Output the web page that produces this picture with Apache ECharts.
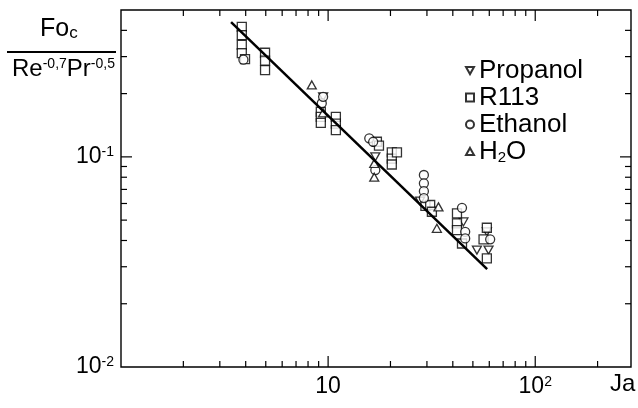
<!DOCTYPE html>
<html>
<head>
<meta charset="utf-8">
<script src="https://cdn.jsdelivr.net/npm/echarts@6/dist/echarts.min.js"></script>
<style>html,body{margin:0;padding:0;background:#fff;}#c{width:638px;height:408px;}</style>
</head>
<body>
<div id="c"></div>
<script>
// ---- data ----
const propanol = [[9.46,0.193],[16.9,0.100],[27.8,0.0616],[45.0,0.049],[58.4,0.044],[52.3,0.036],[59.5,0.036]];
const r113 = [[3.83,0.416],[3.83,0.380],[3.83,0.341],[3.83,0.312],[3.97,0.292],[4.96,0.313],[4.96,0.287],[4.96,0.259],
  [9.22,0.164],[9.22,0.155],[9.22,0.145],[10.9,0.155],[10.9,0.144],[10.9,0.134],[17.2,0.118],[17.6,0.113],
  [20.3,0.105],[20.3,0.098],[20.3,0.092],[21.5,0.105],[29.5,0.0585],[31.1,0.059],[31.7,0.0548],
  [41.9,0.0538],[41.9,0.0482],[41.9,0.0448],[44.3,0.0387],[58.4,0.046],[56.3,0.0405],[58.4,0.0329]];
const ethanol = [[3.90,0.290],[9.32,0.180],[9.46,0.193],[15.8,0.1225],[16.5,0.118],[16.9,0.0865],
  [29.0,0.082],[29.0,0.0748],[29.0,0.0687],[29.0,0.0637],[44.3,0.0572],[45.9,0.044],[45.9,0.0409],[60.6,0.0405]];
const h2o = [[8.34,0.220],[9.46,0.162],[16.7,0.093],[16.7,0.080],[34.1,0.0578],[33.5,0.0457]];
const fitLine = [[3.40,0.438],[58.6,0.0292]];
const seriesNames = ['Propanol','R113','Ethanol','H2O'];
const xMajorTicks = [10,100];
const xMinorTicks = [2,3,4,5,6,7,8,9,20,30,40,50,60,70,80,90,200];
const yMajorTicks = [0.1];
const yMinorTicks = [0.02,0.03,0.04,0.05,0.06,0.07,0.08,0.09,0.2,0.3,0.4];
const X_MIN = 1, X_MAX = 290, Y_MIN = 0.01, Y_MAX = 0.5;

const FONT = 'Liberation Sans';
const chart = echarts.init(document.getElementById('c'));
const triDown = 'path://M0,0 L10,0 L5,9 Z';
const triUp = 'path://M5,0 L10,9 L0,9 Z';
const mk = {color:'#fff', borderColor:'#000', borderWidth:1.3};

function tickSeries(list, isX, len){
  return {
    type:'custom', silent:true, clip:false, z:5,
    data: list.map(v => isX ? [v, Y_MIN, len] : [X_MIN, v, len]),
    encode:{x:0,y:1},
    renderItem(params, api){
      const L = api.value(2);
      const st = {stroke:'#000', lineWidth:1.2};
      if(isX){
        const v = api.value(0);
        const b = api.coord([v, Y_MIN]), t = api.coord([v, Y_MAX]);
        return {type:'group', children:[
          {type:'line', shape:{x1:b[0],y1:b[1],x2:b[0],y2:b[1]-L}, style:st},
          {type:'line', shape:{x1:t[0],y1:t[1],x2:t[0],y2:t[1]+L}, style:st}]};
      } else {
        const v = api.value(1);
        const l = api.coord([X_MIN, v]), r = api.coord([X_MAX, v]);
        return {type:'group', children:[
          {type:'line', shape:{x1:l[0],y1:l[1],x2:l[0]+L,y2:l[1]}, style:st},
          {type:'line', shape:{x1:r[0],y1:r[1],x2:r[0]-L,y2:r[1]}, style:st}]};
      }
    }
  };
}
function lg(v){ return Math.round(Math.log10(v)*1000)/1000; }

chart.setOption({
  animation:false,
  backgroundColor:'#fff',
  textStyle:{fontFamily:FONT},
  grid:{left:121, right:7, top:10, bottom:41, show:true, borderColor:'#000', borderWidth:1.4, backgroundColor:'transparent'},
  xAxis:{type:'log', logBase:10, min:X_MIN, max:X_MAX,
    axisLine:{show:false}, axisTick:{show:false}, splitLine:{show:false},
    axisLabel:{margin:8, color:'#000', fontFamily:FONT, fontSize:23,
      formatter:v => lg(v)===1 ? '10' : (lg(v)===2 ? '10{sup|2}' : ''),
      rich:{sup:{fontSize:14, verticalAlign:'top', lineHeight:14, fontFamily:FONT, color:'#000'}}}},
  yAxis:{type:'log', logBase:10, min:Y_MIN, max:Y_MAX,
    axisLine:{show:false}, axisTick:{show:false}, splitLine:{show:false},
    axisLabel:{margin:7, color:'#000', fontFamily:FONT, fontSize:23,
      formatter:v => lg(v)===-1 ? '10{sup|-1}' : (lg(v)===-2 ? '10{sup|-2}' : ''),
      rich:{sup:{fontSize:14, verticalAlign:'top', lineHeight:14, fontFamily:FONT, color:'#000'}}}},
  legend:{data:seriesNames, orient:'vertical', left:460, top:52, itemGap:0, itemWidth:8, itemHeight:8,
    textStyle:{fontSize:26, fontFamily:FONT, color:'#000', lineHeight:27,
      rich:{sub:{fontSize:15, fontFamily:FONT, color:'#000', verticalAlign:'bottom', lineHeight:12}}},
    formatter:n => n==='H2O' ? 'H{sub|2}O' : n},
  series:[
    {name:'Propanol', type:'scatter', data:propanol, symbol:triDown, symbolSize:[9,8], itemStyle:mk, z:3},
    {name:'R113', type:'scatter', data:r113, symbol:'rect', symbolSize:9, itemStyle:mk, z:3},
    {name:'Ethanol', type:'scatter', data:ethanol, symbol:'circle', symbolSize:9, itemStyle:mk, z:3},
    {name:'H2O', type:'scatter', data:h2o, symbol:triUp, symbolSize:[9,8], itemStyle:mk, z:3},
    {name:'fit', type:'line', data:fitLine, symbol:'none', lineStyle:{color:'#000', width:2.5}, z:4},
    tickSeries(xMajorTicks, true, 11), tickSeries(xMinorTicks, true, 6),
    tickSeries(yMajorTicks, false, 11), tickSeries(yMinorTicks, false, 6)
  ],
  graphic:[
    {type:'text', left:610, top:372, style:{text:'Ja', fontSize:24, fontFamily:FONT, fill:'#000'}},
    {type:'text', left:40, top:17, style:{text:'Fo{sub|c}', fontSize:25, fontFamily:FONT, fill:'#000',
      rich:{sub:{fontSize:17, fontFamily:FONT, fill:'#000', verticalAlign:'bottom', lineHeight:14}}}},
    {type:'line', shape:{x1:7, y1:52, x2:116, y2:52}, style:{stroke:'#000', lineWidth:1.8}},
    {type:'text', left:12, top:57, style:{text:'Re{sup|-0,7}Pr{sup|-0,5}', fontSize:24, fontFamily:FONT, fill:'#000',
      rich:{sup:{fontSize:14, fontFamily:FONT, fill:'#000', verticalAlign:'top', lineHeight:12}}}}
  ]
});
</script>
</body>
</html>
